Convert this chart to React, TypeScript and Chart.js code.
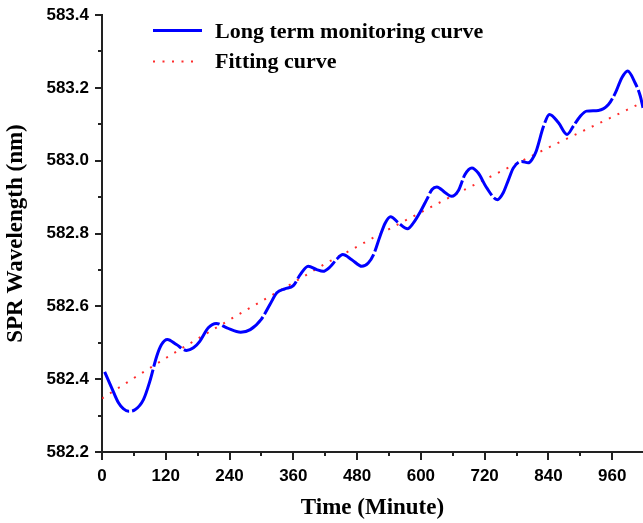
import { useEffect, useRef } from 'react';
import { Chart, registerables } from 'chart.js';

Chart.register(...registerables);

// ---- data ----
const TIME = [
  5, 18, 31, 40, 50, 62, 78, 90, 103, 112, 123, 140, 159, 172, 184, 200, 215, 235, 261, 279,
  300, 316, 329, 344, 360, 373, 388, 404, 416, 429, 442, 453, 470, 489, 501, 511, 523, 533, 543, 558,
  575, 586, 598, 611, 621, 630, 646, 658, 671, 683, 696, 708, 724, 744, 755, 765, 774, 790, 802, 809,
  817, 831, 842, 859, 875, 887, 900, 912, 934, 953, 966, 978, 989, 1003, 1013, 1018,
];
const WAVELENGTH = [
  582.42, 582.377, 582.335, 582.319, 582.312, 582.316, 582.344, 582.394, 582.463, 582.495,
  582.509, 582.495, 582.479, 582.486, 582.504, 582.541, 582.553, 582.541, 582.529, 582.536,
  582.565, 582.605, 582.637, 582.648, 582.657, 582.687, 582.71, 582.701, 582.696, 582.708,
  582.73, 582.742, 582.728, 582.71, 582.719, 582.742, 582.792, 582.829, 582.846, 582.829,
  582.813, 582.829, 582.857, 582.893, 582.921, 582.928, 582.912, 582.902, 582.919, 582.962,
  582.98, 582.966, 582.925, 582.893, 582.912, 582.948, 582.98, 582.998, 582.994, 583.003,
  583.026, 583.095, 583.127, 583.104, 583.072, 583.095, 583.122, 583.136, 583.138, 583.154,
  583.186, 583.227, 583.246, 583.214, 583.177, 583.145,
];
const FIT_TIME = [0, 60, 120, 180, 240, 300, 360, 420, 480, 540, 600, 660, 720, 780, 840, 900, 960, 1020];
const FIT_WAVELENGTH = [
  582.347, 582.403, 582.458, 582.511, 582.563, 582.614, 582.665, 582.717, 582.764,
  582.812, 582.858, 582.904, 582.948, 582.992, 583.036, 583.078, 583.12, 583.162,
];
const X_TICKS = [0, 120, 240, 360, 480, 600, 720, 840, 960];
const X_MINOR = [60, 180, 300, 420, 540, 660, 780, 900];
const Y_TICKS = [582.2, 582.4, 582.6, 582.8, 583.0, 583.2, 583.4];
const Y_MINOR = [582.3, 582.5, 582.7, 582.9, 583.1, 583.3];
const SERIES_LABELS = ['Long term monitoring curve', 'Fitting curve'];
const X_TITLE = 'Time (Minute)';
const Y_TITLE = 'SPR Wavelength (nm)';

const BLUE = '#0000ff';
const RED = 'rgba(255, 20, 20, 0.9)';
const AXIS = '#222222';
const SANS = "'Liberation Sans', Arial, sans-serif";
const SERIF = "'Liberation Serif', 'Times New Roman', serif";

const extrasPlugin = {
  id: 'extras',
  afterDraw(chart: any) {
    const { ctx, chartArea: a } = chart;
    const xs = chart.scales.x;
    const ys = chart.scales.y;
    ctx.save();
    ctx.strokeStyle = AXIS;
    ctx.lineWidth = 2;
    ctx.beginPath();
    X_TICKS.forEach((v) => {
      const p = Math.round(xs.getPixelForValue(v));
      ctx.moveTo(p, a.bottom);
      ctx.lineTo(p, a.bottom + 8);
    });
    X_MINOR.forEach((v) => {
      const p = Math.round(xs.getPixelForValue(v));
      ctx.moveTo(p, a.bottom);
      ctx.lineTo(p, a.bottom + 4);
    });
    Y_TICKS.forEach((v) => {
      const p = Math.round(ys.getPixelForValue(v));
      ctx.moveTo(a.left, p);
      ctx.lineTo(a.left - 7, p);
    });
    Y_MINOR.forEach((v) => {
      const p = Math.round(ys.getPixelForValue(v));
      ctx.moveTo(a.left, p);
      ctx.lineTo(a.left - 4, p);
    });
    ctx.stroke();

    // legend
    const lx0 = a.left + 51;
    ctx.lineWidth = 3;
    ctx.strokeStyle = BLUE;
    ctx.beginPath();
    ctx.moveTo(lx0, a.top + 15.5);
    ctx.lineTo(lx0 + 49, a.top + 15.5);
    ctx.stroke();
    ctx.lineWidth = 2;
    ctx.strokeStyle = RED;
    ctx.setLineDash([2, 7.5]);
    ctx.beginPath();
    ctx.moveTo(lx0, a.top + 46.5);
    ctx.lineTo(lx0 + 47, a.top + 46.5);
    ctx.stroke();
    ctx.setLineDash([]);
    ctx.fillStyle = '#000';
    ctx.font = `bold 22px ${SERIF}`;
    ctx.textBaseline = 'alphabetic';
    ctx.textAlign = 'left';
    ctx.fillText(SERIES_LABELS[0], a.left + 113, a.top + 23);
    ctx.fillText(SERIES_LABELS[1], a.left + 113, a.top + 53);
    ctx.restore();
  },
};

export default function App() {
  const ref = useRef<HTMLCanvasElement | null>(null);

  useEffect(() => {
    document.body.style.margin = '0';
    if (!ref.current) return;
    const chart = new Chart(ref.current, {
      type: 'line',
      data: {
        datasets: [
          {
            label: SERIES_LABELS[0],
            data: TIME.map((t, i) => ({ x: t, y: WAVELENGTH[i] })),
            borderColor: BLUE,
            borderWidth: 3,
            borderDash: [48, 3],
            pointRadius: 0,
            cubicInterpolationMode: 'monotone',
            fill: false,
          },
          {
            label: SERIES_LABELS[1],
            data: FIT_TIME.map((t, i) => ({ x: t, y: FIT_WAVELENGTH[i] })),
            borderColor: RED,
            borderWidth: 2,
            borderDash: [2, 7.5],
            pointRadius: 0,
            tension: 0,
            fill: false,
          },
        ],
      },
      options: {
        responsive: false,
        animation: false,
        layout: { padding: { top: 15, right: 0, left: 0, bottom: 0 } },
        plugins: { legend: { display: false }, tooltip: { enabled: false } },
        scales: {
          x: {
            type: 'linear',
            position: 'bottom',
            min: 0,
            max: 1018,
            afterBuildTicks: (s: any) => {
              s.ticks = X_TICKS.map((v) => ({ value: v }));
            },
            afterFit: (s: any) => {
              s.height = 71;
              s.paddingLeft = 0;
              s.paddingRight = 0;
            },
            grid: { display: false, drawTicks: false },
            border: { display: true, color: AXIS, width: 2 },
            ticks: {
              color: '#000',
              padding: 14,
              maxRotation: 0,
              autoSkip: false,
              font: { family: SANS, size: 17, weight: 'bold' },
              callback: (v: any) => String(v),
            },
            title: {
              display: true,
              text: X_TITLE,
              color: '#000',
              font: { family: SERIF, size: 23, weight: 'bold' },
              padding: { top: 0, bottom: 1 },
            },
          },
          y: {
            type: 'linear',
            min: 582.2,
            max: 583.4,
            afterBuildTicks: (s: any) => {
              s.ticks = Y_TICKS.map((v) => ({ value: v }));
            },
            afterFit: (s: any) => {
              s.width = 102;
              s.paddingTop = 0;
              s.paddingBottom = 0;
            },
            grid: { display: false, drawTicks: false },
            border: { display: true, color: AXIS, width: 2 },
            ticks: {
              color: '#000',
              padding: 13,
              font: { family: SANS, size: 17, weight: 'bold' },
              callback: (v: any) => Number(v).toFixed(1),
            },
            title: {
              display: true,
              text: Y_TITLE,
              color: '#000',
              font: { family: SERIF, size: 23, weight: 'bold' },
              padding: { top: 2, bottom: 0 },
            },
          },
        },
      } as any,
      plugins: [extrasPlugin],
    });
    return () => chart.destroy();
  }, []);

  return (
    <div style={{ width: 643, height: 523 }}>
      <canvas ref={ref} width={643} height={523} />
    </div>
  );
}
